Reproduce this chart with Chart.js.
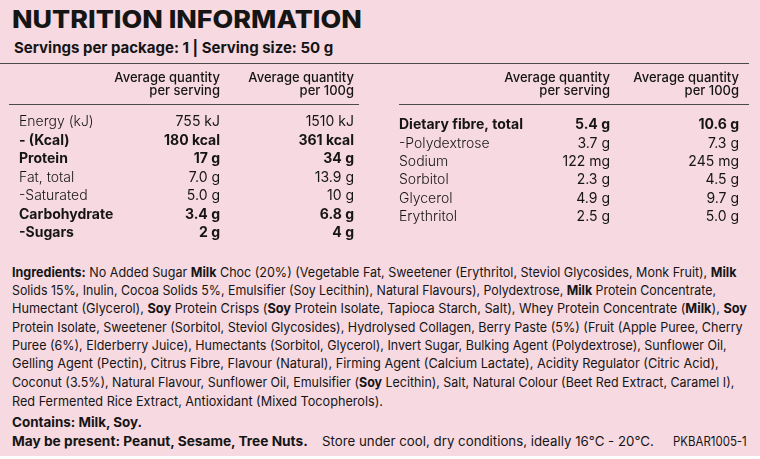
<!DOCTYPE html>
<html lang="en">
<head>
<meta charset="utf-8">
<title>Nutrition information</title>
<script src="https://cdn.jsdelivr.net/npm/chart.js@4.4.1/dist/chart.umd.min.js"></script>
<style>
  html, body { margin: 0; padding: 0; background: #ffffff; }
  #panel {
    position: relative; width: 760px; height: 456px; background: #f7d9e1; overflow: hidden;
    font-family: "Inter", sans-serif; color: #151515;
  }
  .txt { position: absolute; white-space: nowrap; transform-origin: 0 50%; line-height: 1; }
  .txt b { font-weight: 700; }
  .rule { position: absolute; height: 1px; background: #4a4a4a; }
  .box { position: absolute; width: 380px; height: 185px; top: 63px; }
</style>
</head>
<body>
<div id="panel">
  <div class="rule" style="left:0;top:63px;width:749px"></div>
  <div class="rule" style="left:9px;top:104px;width:350px"></div>
  <div class="rule" style="left:399px;top:104px;width:350px"></div>
  <div class="box" style="left:0"><canvas id="left-table"></canvas></div>
  <div class="box" style="left:380px"><canvas id="right-table"></canvas></div>
</div>
<script>
// Kolom & baris tabel gizi
const columns = [["Average quantity", "per serving"], ["Average quantity", "per 100g"]];

const leftRows = ["Energy (kJ)", "- (Kcal)", "Protein", "Fat, total", "-Saturated", "Carbohydrate", "-Sugars"];
const leftBold = [false, true, true, false, false, true, true];
const leftPerServing = ["755 kJ", "180 kcal", "17 g", "7.0 g", "5.0 g", "3.4 g", "2 g"];
const leftPer100g = ["1510 kJ", "361 kcal", "34 g", "13.9 g", "10 g", "6.8 g", "4 g"];

const rightRows = ["Dietary fibre, total", "-Polydextrose", "Sodium", "Sorbitol", "Glycerol", "Erythritol"];
const rightBold = [true, false, false, false, false, false];
const rightPerServing = ["5.4 g", "3.7 g", "122 mg", "2.3 g", "4.9 g", "2.5 g"];
const rightPer100g = ["10.6 g", "7.3 g", "245 mg", "4.5 g", "9.7 g", "5.0 g"];

// Teks bebas: [html, tengah y, kiri x, kanan x, ukuran, tebal]
const textLines = [
  ["NUTRITION INFORMATION", 19.5, 12, 362, 24, 800],
  ["Servings per package: 1 | Serving size: 50 g", 47, 14, 333, 15, 700],
  ["<b>Ingredients:</b> No Added Sugar <b>Milk</b> Choc (20%) (Vegetable Fat, Sweetener (Erythritol, Steviol Glycosides, Monk Fruit), <b>Milk</b>", 272, 12, 736, 13, 400],
  ["Solids 15%, Inulin, Cocoa Solids 5%, Emulsifier (Soy Lecithin), Natural Flavours), Polydextrose, <b>Milk</b> Protein Concentrate,", 290, 12, 716, 13, 400],
  ["Humectant (Glycerol), <b>Soy</b> Protein Crisps (<b>Soy</b> Protein Isolate, Tapioca Starch, Salt), Whey Protein Concentrate (<b>Milk</b>), <b>Soy</b>", 308, 12, 747, 13, 400],
  ["Protein Isolate, Sweetener (Sorbitol, Steviol Glycosides), Hydrolysed Collagen, Berry Paste (5%) (Fruit (Apple Puree, Cherry", 327, 12, 743, 13, 400],
  ["Puree (6%), Elderberry Juice), Humectants (Sorbitol, Glycerol), Invert Sugar, Bulking Agent (Polydextrose), Sunflower Oil,", 345, 12, 727, 13, 400],
  ["Gelling Agent (Pectin), Citrus Fibre, Flavour (Natural), Firming Agent (Calcium Lactate), Acidity Regulator (Citric Acid),", 363, 12, 719, 13, 400],
  ["Coconut (3.5%), Natural Flavour, Sunflower Oil, Emulsifier (<b>Soy</b> Lecithin), Salt, Natural Colour (Beet Red Extract, Caramel I),", 382, 12, 734, 13, 400],
  ["Red Fermented Rice Extract, Antioxidant (Mixed Tocopherols).", 401, 12, 383, 13, 400],
  ["Contains: Milk, Soy.", 422, 12, 142, 13, 700],
  ["May be present: Peanut, Sesame, Tree Nuts.", 441, 12, 308, 13, 700],
  ["Store under cool, dry conditions, ideally 16°C - 20°C.", 441, 322, 654, 13, 400],
  ["PKBAR1005-1", 441, 673, 747, 13, 400],
];

const family = '"Inter", sans-serif';
const ink = "#151515";

const panel = document.getElementById("panel");
textLines.forEach(([html, cy, x0, x1, size, weight]) => {
  const el = document.createElement("div");
  el.className = "txt";
  el.innerHTML = html;
  el.style.left = x0 + "px";
  el.style.top = cy + "px";
  el.style.fontSize = size + "px";
  el.style.fontWeight = weight;
  panel.appendChild(el);
  const k = (x1 - x0) / el.offsetWidth;
  el.style.transform = `translateY(-50%) scaleX(${k})`;
});

const cellText = {
  id: "cellText",
  afterDatasetsDraw(chart) {
    const ctx = chart.ctx;
    ctx.save();
    ctx.textAlign = "right";
    ctx.textBaseline = "middle";
    ctx.fillStyle = ink;
    chart.data.datasets.forEach((ds, i) => {
      chart.getDatasetMeta(i).data.forEach((pt, j) => {
        ctx.font = (ds.bold[j] ? "700 " : "400 ") + "14px " + family;
        ctx.fillText(ds.values[j], pt.x, pt.y);
      });
    });
    ctx.restore();
  },
};

function makeTable(id, rows, bold, perServing, per100g, g) {
  const column = (values, x) => ({
    data: rows.map((r) => ({ x: x, y: r })),
    values: values,
    bold: bold,
    showLine: false,
    pointRadius: 0,
  });
  return new Chart(document.getElementById(id), {
    type: "line",
    data: { datasets: [column(perServing, 0), column(per100g, 1)] },
    plugins: [cellText],
    options: {
      responsive: true,
      maintainAspectRatio: false,
      animation: false,
      layout: { padding: { left: 19, right: g.right, top: 0, bottom: g.bottom } },
      plugins: { legend: { display: false }, tooltip: { enabled: false } },
      scales: {
        x: {
          type: "linear",
          position: "top",
          min: 0,
          max: 1,
          grid: { display: false },
          border: { display: false },
          ticks: {
            stepSize: 1,
            align: "end",
            maxRotation: 0,
            autoSkip: false,
            padding: g.headPad,
            color: ink,
            font: { size: 13, weight: 500, family: family, lineHeight: 1.0 },
            callback: (v) => columns[v],
          },
          afterFit: (s) => {
            s.height = g.head;
            s.paddingLeft = 0;
            s.paddingRight = 0;
          },
        },
        y: {
          type: "category",
          labels: rows,
          offset: false,
          grid: { display: false },
          border: { display: false },
          ticks: {
            crossAlign: "far",
            autoSkip: false,
            color: ink,
            font: (c) => ({ size: 14, weight: bold[c.index] ? 700 : 300, family: family }),
          },
          afterFit: (s) => {
            s.width = g.labelW;
            s.paddingTop = 0;
            s.paddingBottom = 0;
          },
        },
      },
    },
  });
}

makeTable("left-table", leftRows, leftBold, leftPerServing, leftPer100g,
  { right: 26, bottom: 15, head: 59, headPad: 16, labelW: 201 });
makeTable("right-table", rightRows, rightBold, rightPerServing, rightPer100g,
  { right: 21, bottom: 31, head: 62, headPad: 19, labelW: 211 });
</script>
</body>
</html>
